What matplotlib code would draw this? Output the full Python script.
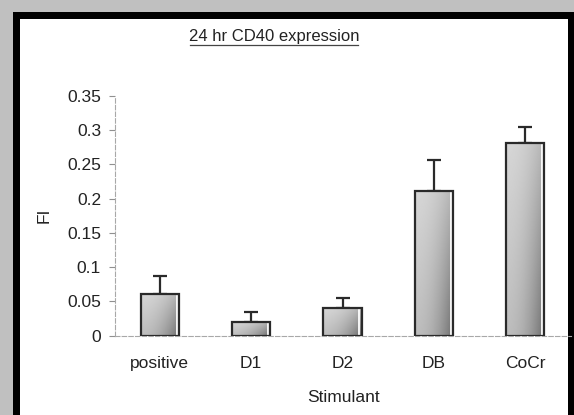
import numpy as np
import matplotlib
matplotlib.use('Agg')
import matplotlib.pyplot as plt
from matplotlib.patches import Rectangle

plt.rcParams['font.family'] = ['Liberation Sans', 'DejaVu Sans']

# data
stimulants = ['positive', 'D1', 'D2', 'DB', 'CoCr']
fi_values = [0.06, 0.02, 0.04, 0.211, 0.282]
fi_errors = [0.027, 0.015, 0.015, 0.046, 0.023]
yticks = [0, 0.05, 0.1, 0.15, 0.2, 0.25, 0.3, 0.35]
ytick_labels = ['0', '0.05', '0.1', '0.15', '0.2', '0.25', '0.3', '0.35']

fig = plt.figure(figsize=(5.74, 4.15), dpi=100, facecolor='#c0c0c0')

# black frame with white page inside
fig.patches.append(Rectangle((13/574, 0), 1 - 13/574, 1 - 12/415,
                             transform=fig.transFigure, facecolor='black', zorder=-2))
fig.patches.append(Rectangle((20/574, 0), 548/574, 1 - 19/415,
                             transform=fig.transFigure, facecolor='white', zorder=-1))

ax = fig.add_axes([115/574, 79.5/415, 456/574, 239.5/415])
ax.set_facecolor('none')

x = np.arange(len(stimulants))
bars = ax.bar(x, fi_values, width=0.42, facecolor='none', edgecolor='#2a2a2a',
              linewidth=1.6, zorder=3)

# shaded fill: light at upper left, darker toward lower right
gx, gy = np.meshgrid(np.linspace(0, 1, 40), np.linspace(0, 1, 120))
for b in bars:
    h = b.get_height()
    shade = 0.84 - 0.1 * gy - 0.32 * gx ** 2 * (0.45 + 0.55 * gy)
    im = ax.imshow(shade, cmap='gray', vmin=0, vmax=1, aspect='auto',
                   extent=[b.get_x(), b.get_x() + b.get_width(), 0, h],
                   origin='upper', zorder=2, interpolation='bilinear')
    im.set_clip_path(b)
    xr = b.get_x() + b.get_width() * 0.94
    ax.plot([xr, xr], [0, h - 0.003], color='white', linewidth=1.3, zorder=2.5)

ax.errorbar(x, fi_values, yerr=[np.zeros(len(fi_errors)), fi_errors], fmt='none',
            ecolor='#2a2a2a', elinewidth=1.6, capsize=5, capthick=1.6, zorder=1)

ax.set_xlim(-0.49, 4.5)
ax.set_ylim(0, 0.35)
ax.set_yticks(yticks)
ax.set_yticklabels(ytick_labels)
ax.set_xticks(x)
ax.set_xticklabels(stimulants)

for s in ['top', 'right']:
    ax.spines[s].set_visible(False)
for s in ['left', 'bottom']:
    ax.spines[s].set_color('#a8a8a8')
    ax.spines[s].set_linestyle((0, (4, 2)))
    ax.spines[s].set_linewidth(0.8)

ax.tick_params(axis='y', length=4, color='#909090', labelsize=12.5, pad=6, labelcolor='#222222')
ax.tick_params(axis='x', length=0, labelsize=12.5, pad=14.5, labelcolor='#222222')

ax.set_ylabel('FI', fontsize=12.5, color='#222222', labelpad=11)
ax.set_xlabel('Stimulant', fontsize=12.5, color='#222222', labelpad=14)

fig.text(274/574, 1 - 36/415, '24 hr CD40 expression', ha='center', va='center',
         fontsize=12, color='#222222')
fig.add_artist(plt.Line2D([190/574, 358/574], [1 - 45/415, 1 - 45/415],
                          color='#444444', linewidth=0.9))

fig.savefig('out.png', dpi=100, facecolor=fig.get_facecolor())
